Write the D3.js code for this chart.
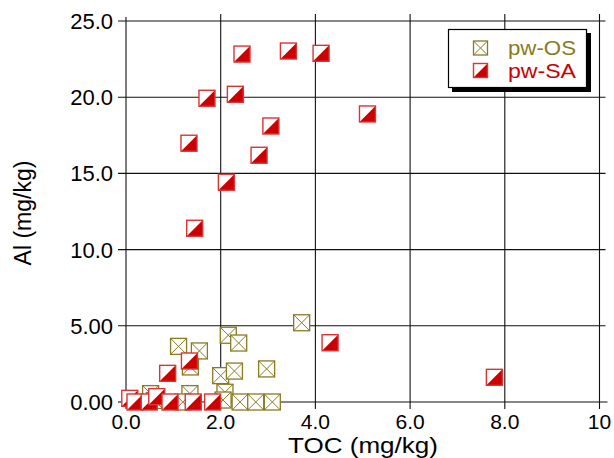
<!DOCTYPE html>
<html>
<head>
<meta charset="utf-8">
<script src="https://cdn.jsdelivr.net/npm/d3@7"></script>
<style>
    body { margin: 0; background: #fff; }
    svg text { font-family: "Liberation Sans", Arial, sans-serif; }
</style>
</head>
<body>
<script>
    // pw-OS series
    var osX = [1.11, 1.55, 2.16, 2.38, 3.71, 1.36, 2.00, 2.29, 2.97, 2.09, 2.05, 0.52, 1.35, 1.20, 0.60, 2.41, 2.74, 3.09];
    var osY = [3.65, 3.35, 4.38, 3.87, 5.20, 2.30, 1.73, 2.03, 2.17, 0.64, 0.13, 0.55, 0.55, 0.00, 0.10, 0.00, 0.00, 0.00];

    // pw-SA series
    var saX = [2.45, 3.43, 4.12, 1.71, 2.31, 5.10, 3.06, 1.33, 2.81, 2.12, 1.45, 4.31, 7.78, 1.34, 0.88, 0.08, 0.19, 0.49, 0.65, 0.93, 1.42, 1.83];
    var saY = [22.83, 23.03, 22.88, 19.93, 20.19, 18.90, 18.11, 16.98, 16.19, 14.42, 11.40, 3.89, 1.62, 2.69, 1.88, 0.24, 0.00, 0.00, 0.35, 0.00, 0.00, 0.00];

    var xTicks = [0, 2, 4, 6, 8, 10];
    var xTickLabels = ['0.0', '2.0', '4.0', '6.0', '8.0', '10'];
    var yTicks = [0, 5, 10, 15, 20, 25];
    var yTickLabels = ['0.00', '5.00', '10.0', '15.0', '20.0', '25.0'];

    var seriesNames = ['pw-OS', 'pw-SA'];

    var w = 614, h = 458;
    var olive = '#8a7a22', red = '#cc0000';

    var x = d3.scaleLinear().domain([0, 10]).range([126, 599.5]);
    var y = d3.scaleLinear().domain([0, 25]).range([402, 21]);

    var svg = d3.select('body').append('svg')
        .attr('width', w)
        .attr('height', h);

    var grid = svg.append('g').attr('stroke', '#111').attr('stroke-width', 1.1);

    // horizontal grid lines (stick out a bit like ticks)
    grid.selectAll('.hg')
        .data(yTicks.filter(function (d) { return d > 0; }))
        .enter().append('line')
        .attr('x1', x(0) - 8).attr('x2', x(10) + 6)
        .attr('y1', function (d) { return y(d); })
        .attr('y2', function (d) { return y(d); });

    // vertical grid lines
    grid.selectAll('.vg')
        .data(xTicks.filter(function (d) { return d > 0; }))
        .enter().append('line')
        .attr('y1', y(25) - 7).attr('y2', y(0) + 7)
        .attr('x1', function (d) { return x(d); })
        .attr('x2', function (d) { return x(d); });

    // axes lines
    grid.append('line').attr('x1', x(0)).attr('x2', x(0)).attr('y1', y(25) - 4).attr('y2', y(0));
    grid.append('line').attr('x1', x(0)).attr('x2', x(10) + 8).attr('y1', y(0)).attr('y2', y(0));
    grid.append('line').attr('x1', x(0) - 8).attr('x2', x(0)).attr('y1', y(0)).attr('y2', y(0));
    grid.append('line').attr('x1', x(0)).attr('x2', x(0)).attr('y1', y(0)).attr('y2', y(0) + 7);

    // tick labels
    svg.append('g').selectAll('text')
        .data(yTicks)
        .enter().append('text')
        .attr('x', 113)
        .attr('y', function (d) { return y(d); })
        .attr('dy', '0.36em')
        .attr('text-anchor', 'end')
        .attr('font-size', 22)
        .text(function (d, i) { return yTickLabels[i]; });

    svg.append('g').selectAll('text')
        .data(xTicks)
        .enter().append('text')
        .attr('x', function (d) { return x(d); })
        .attr('y', 429)
        .attr('text-anchor', 'middle')
        .attr('font-size', 21)
        .text(function (d, i) { return xTickLabels[i]; });

    // axis titles
    svg.append('text')
        .attr('x', 363).attr('y', 453)
        .attr('text-anchor', 'middle')
        .attr('font-size', 22)
        .attr('textLength', 150)
        .attr('lengthAdjust', 'spacingAndGlyphs')
        .text('TOC (mg/kg)');

    svg.append('text')
        .attr('transform', 'translate(31,213) rotate(-90)')
        .attr('text-anchor', 'middle')
        .attr('font-size', 23)
        .text('Al (mg/kg)');

    function drawOS(g, s) {
        g.append('rect').attr('x', -s / 2).attr('y', -s / 2).attr('width', s).attr('height', s)
            .attr('fill', '#fff').attr('stroke', olive).attr('stroke-width', 1.3);
        g.append('path')
            .attr('d', 'M' + (-s / 2) + ',' + (-s / 2) + 'L' + (s / 2) + ',' + (s / 2) +
                'M' + (s / 2) + ',' + (-s / 2) + 'L' + (-s / 2) + ',' + (s / 2))
            .attr('stroke', olive).attr('stroke-width', 1);
    }

    function drawSA(g, s) {
        g.append('rect').attr('x', -s / 2).attr('y', -s / 2).attr('width', s).attr('height', s)
            .attr('fill', '#fff');
        g.append('path')
            .attr('d', 'M' + (s / 2) + ',' + (-s / 2) + 'L' + (s / 2) + ',' + (s / 2) + 'L' + (-s / 2) + ',' + (s / 2) + 'Z')
            .attr('fill', red);
        g.append('rect').attr('x', -s / 2).attr('y', -s / 2).attr('width', s).attr('height', s)
            .attr('fill', 'none').attr('stroke', '#dd3333').attr('stroke-width', 1.4);
    }

    var ms = 16;

    svg.append('g').selectAll('g')
        .data(osX)
        .enter().append('g')
        .attr('transform', function (d, i) { return 'translate(' + x(d) + ',' + y(osY[i]) + ')'; })
        .each(function () { drawOS(d3.select(this), ms); });

    svg.append('g').selectAll('g')
        .data(saX)
        .enter().append('g')
        .attr('transform', function (d, i) { return 'translate(' + x(d) + ',' + y(saY[i]) + ')'; })
        .each(function () { drawSA(d3.select(this), ms); });

    // legend
    var lg = svg.append('g');
    lg.append('rect').attr('x', 452).attr('y', 33).attr('width', 139).attr('height', 59).attr('fill', '#000');
    lg.append('rect').attr('x', 448.5).attr('y', 29.5).attr('width', 138).attr('height', 58)
        .attr('fill', '#fff').attr('stroke', '#000').attr('stroke-width', 1.2);

    drawOS(lg.append('g').attr('transform', 'translate(480.5,48)'), 14);
    drawSA(lg.append('g').attr('transform', 'translate(480.5,70.5)'), 14);

    lg.selectAll('.lt')
        .data(seriesNames)
        .enter().append('text')
        .attr('x', 508)
        .attr('y', function (d, i) { return 55 + i * 23; })
        .attr('font-size', 21)
        .attr('textLength', 68)
        .attr('lengthAdjust', 'spacingAndGlyphs')
        .attr('fill', function (d, i) { return i === 0 ? olive : red; })
        .text(function (d) { return d; });
</script>
</body>
</html>
